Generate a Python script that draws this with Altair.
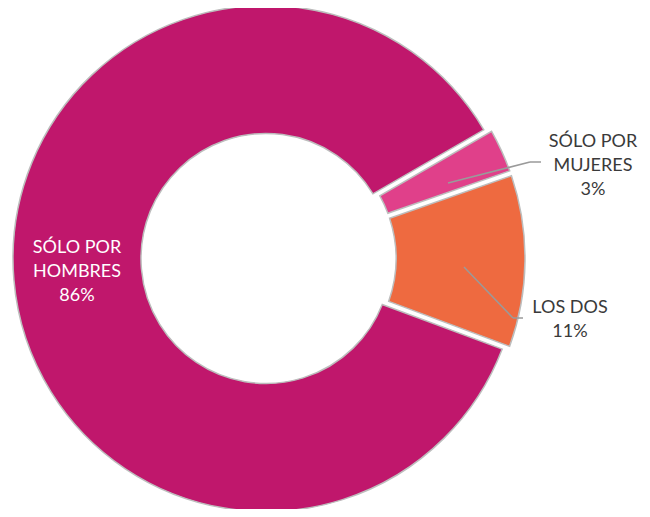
import math
import altair as alt
import pandas as pd

categories = ["SÓLO POR MUJERES", "LOS DOS", "SÓLO POR HOMBRES"]
values = [3, 11, 86]
colors = ["#E0408A", "#EE6A40", "#C0176C"]
exploded = [True, True, False]
order = [0, 1, 2]

df = pd.DataFrame({"cat": categories, "val": values, "exploded": exploded, "order": order})

CX, CY = 258, 250.5
FONT = "Lato"

theta_scale = alt.Scale(domain=[0, 100], range=[math.radians(60), math.radians(420)])
color_scale = alt.Scale(domain=categories, range=colors)

base = (
    alt.Chart(df)
    .transform_window(cum="sum(val)", sort=[alt.SortField("order")])
    .transform_calculate(start="datum.cum - datum.val")
)

enc = dict(
    theta=alt.Theta("start:Q", scale=theta_scale, stack=None),
    theta2=alt.Theta2("cum:Q"),
    color=alt.Color("cat:N", scale=color_scale, legend=None),
)

main_arc = base.transform_filter("!datum.exploded").mark_arc(
    x=CX, y=CY, radius=253, radius2=125, padAngle=0.018,
    stroke="#BDBDBD", strokeWidth=1.5,
).encode(**enc)

expl_arc = base.transform_filter("datum.exploded").mark_arc(
    x=CX, y=CY, radius=259, radius2=130, padAngle=0.018,
    stroke="#BDBDBD", strokeWidth=1.5,
).encode(**enc)

def rule(x1, y1, x2, y2):
    return alt.Chart(df.head(1)).mark_rule(color="#9A9A9A", strokeWidth=1.5).encode(
        x=alt.value(x1), y=alt.value(y1), x2=alt.value(x2), y2=alt.value(y2)
    )

lines = [
    rule(440, 175, 522, 154),
    rule(522, 154, 533, 154),
    rule(456, 259, 505, 310),
    rule(505, 310, 515, 310),
]

label_text = [
    ["SÓLO POR", "HOMBRES", "86%"],
    ["SÓLO POR", "MUJERES", "3%"],
    ["LOS DOS", "11%"],
]
label_color = ["white", "#3A3A3A", "#3A3A3A"]
label_pos = [(69, 240), (585, 134), (562, 300)]

labels = []
for txt, col, (lx, ly) in zip(label_text, label_color, label_pos):
    labels.append(
        alt.Chart(df.head(1)).mark_text(
            text=txt, x=lx, y=ly, align="center", baseline="middle",
            font=FONT, fontSize=18, lineHeight=24, color=col,
        ).encode()
    )

chart = alt.layer(main_arc, expl_arc, *lines, *labels).properties(
    width=634, height=501, padding=0, autosize=alt.AutoSizeParams(type="none")
).configure_view(stroke=None)

chart.save("out.html", embed_options={"renderer": "svg", "actions": False})
